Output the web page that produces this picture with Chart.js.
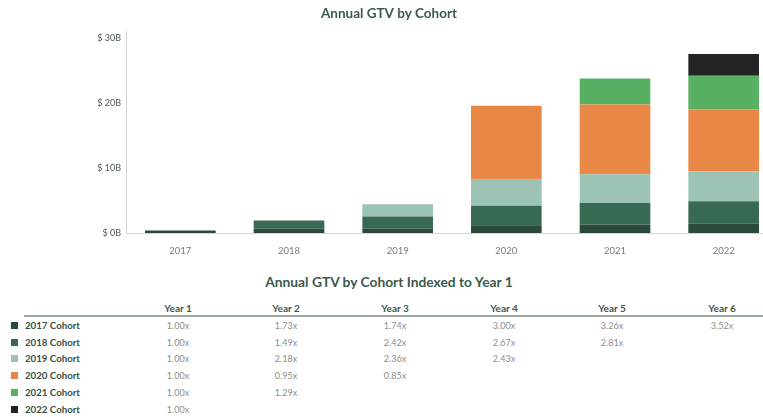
<!DOCTYPE html>
<html>
<head>
<meta charset="utf-8">
<script src="https://cdn.jsdelivr.net/npm/chart.js@4"></script>
<style>
  html, body { margin: 0; padding: 0; background: #fff; overflow: hidden; }
  body { width: 763px; height: 417px; position: relative; font-family: Lato, sans-serif; }
  #chartBox { position: absolute; left: 0; top: 0; width: 790px; height: 262px; }
  #tbl { position: absolute; left: 0; top: 262px; width: 763px; height: 155px; }
  .t-title { position: absolute; left: 0; width: 778px; top: 11px; text-align: center;
    font-weight: bold; font-size: 13.8px; color: #3b5a4a; }
  .hdr { position: absolute; width: 80px; margin-left: -40px; text-align: center;
    font-weight: bold; font-size: 10px; color: #3b5a4a; }
  .rule { position: absolute; left: 24px; right: 0; height: 2px; background: #9aa89f; }
  .lbl { position: absolute; left: 25px; font-weight: bold; font-size: 9.7px; color: #3b5046; }
  .sw { position: absolute; left: 11px; width: 7px; height: 7px; }
  .val { position: absolute; width: 60px; margin-left: -30px; text-align: center;
    font-size: 9px; color: #8c8c8c; }
</style>
</head>
<body>
<div id="chartBox"><canvas id="barChart"></canvas></div>
<div id="tbl"></div>
<script>
// chart data (GTV, $B)
var years = ["2017", "2018", "2019", "2020", "2021", "2022"];
var cohortNames = ["2017 Cohort", "2018 Cohort", "2019 Cohort", "2020 Cohort", "2021 Cohort", "2022 Cohort"];
var cohortColors = ["#2b4a3a", "#386a53", "#9cc3b4", "#e98746", "#58b063", "#232323"];

var gtv2017 = [0.4, 0.69, 0.7, 1.2, 1.3, 1.41];
var gtv2018 = [null, 1.24, 1.85, 3.0, 3.31, 3.48];
var gtv2019 = [null, null, 1.88, 4.1, 4.44, 4.57];
var gtv2020 = [null, null, null, 11.25, 10.7, 9.56];
var gtv2021 = [null, null, null, null, 4.0, 5.16];
var gtv2022 = [null, null, null, null, null, 3.35];

var yTicks = [0, 10, 20, 30];

// indexed table
var yearHeaders = ["Year 1", "Year 2", "Year 3", "Year 4", "Year 5", "Year 6"];
var idx2017 = ["1.00x", "1.73x", "1.74x", "3.00x", "3.26x", "3.52x"];
var idx2018 = ["1.00x", "1.49x", "2.42x", "2.67x", "2.81x"];
var idx2019 = ["1.00x", "2.18x", "2.36x", "2.43x"];
var idx2020 = ["1.00x", "0.95x", "0.85x"];
var idx2021 = ["1.00x", "1.29x"];
var idx2022 = ["1.00x"];

var gtvSeries = [gtv2017, gtv2018, gtv2019, gtv2020, gtv2021, gtv2022];
var idxRows = [idx2017, idx2018, idx2019, idx2020, idx2021, idx2022];

var datasets = [];
for (var i = 0; i < cohortNames.length; i++) {
	datasets.push({
		label: cohortNames[i],
		data: gtvSeries[i],
		backgroundColor: cohortColors[i],
		borderWidth: 0,
		barPercentage: 0.65,
		categoryPercentage: 1.0
	});
}

var ctx = document.getElementById("barChart");
var chart = new Chart(ctx, {
	type: "bar",
	data: { labels: years, datasets: datasets },
	options: {
		responsive: true,
		maintainAspectRatio: false,
		animation: false,
		layout: { padding: { left: 0, right: 12, top: 0, bottom: 0 } },
		plugins: {
			legend: { display: false },
			tooltip: { enabled: false },
			title: {
				display: true,
				text: "Annual GTV by Cohort",
				color: "#3b5a4a",
				font: { family: "Lato", size: 13.5, weight: "bold" },
				padding: { top: 6, bottom: 9.2 }
			}
		},
		scales: {
			x: {
				stacked: true,
				grid: { display: false, drawTicks: false },
				border: { color: "#d6d6d6", width: 1 },
				ticks: { color: "#7a7a7a", font: { family: "Lato", size: 9.5 }, padding: 12 },
				afterFit: function (scale) { scale.height = 29; }
			},
			y: {
				stacked: true,
				min: 0,
				max: 31,
				grid: { display: false, drawTicks: false },
				border: { color: "#d6d6d6", width: 1 },
				afterBuildTicks: function (scale) {
					scale.ticks = yTicks.map(function (v) { return { value: v }; });
				},
				afterFit: function (scale) { scale.width = 126; },
				ticks: {
					color: "#4a5a50",
					font: { family: "Lato", size: 9 },
					padding: 5,
					callback: function (v) { return "$ " + v + "B"; }
				}
			}
		}
	}
});

// table under the chart
var tbl = document.getElementById("tbl");
var colX = [178, 286, 395, 504, 612, 722];
var html = '<div class="t-title">Annual GTV by Cohort Indexed to Year 1</div>';
for (var c = 0; c < yearHeaders.length; c++) {
	html += '<div class="hdr" style="left:' + colX[c] + 'px;top:40px">' + yearHeaders[c] + '</div>';
}
html += '<div class="rule" style="top:53px"></div>';
for (var r = 0; r < cohortNames.length; r++) {
	var rowTop = 57 + r * 16.7;
	html += '<div class="sw" style="top:' + (rowTop + 3) + 'px;background:' + cohortColors[r] + '"></div>';
	html += '<div class="lbl" style="top:' + rowTop + 'px">' + cohortNames[r] + '</div>';
	for (var k = 0; k < idxRows[r].length; k++) {
		html += '<div class="val" style="left:' + colX[k] + 'px;top:' + (rowTop + 1) + 'px">' + idxRows[r][k] + '</div>';
	}
}
tbl.innerHTML = html;
</script>
</body>
</html>
